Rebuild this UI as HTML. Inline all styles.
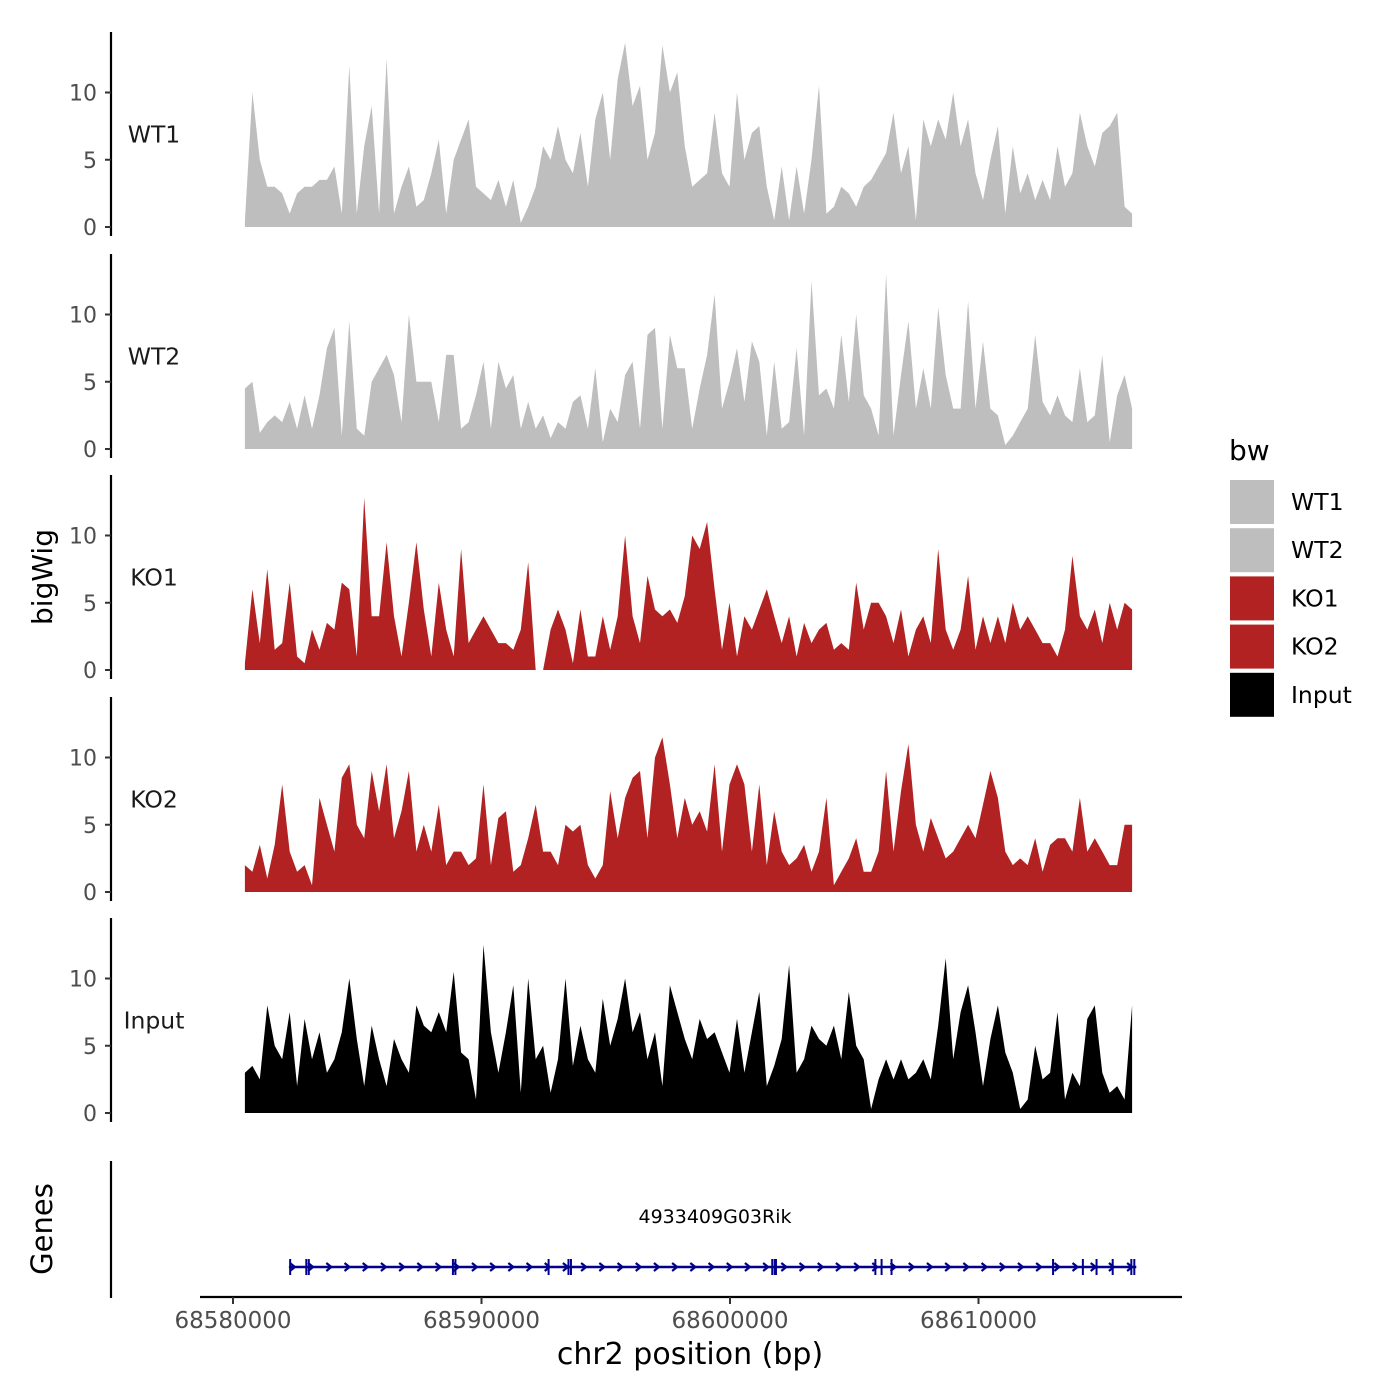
<!DOCTYPE html>
<html><head><meta charset="utf-8"><style>
html,body{margin:0;padding:0;background:#fff;}
svg{display:block;font-family:"DejaVu Sans","Liberation Sans",sans-serif;}
</style></head><body>
<svg id="chart" width="1400" height="1400" viewBox="0 0 1400 1400" xmlns="http://www.w3.org/2000/svg">
<rect width="1400" height="1400" fill="#fff"/>
<g id="panels"></g>
<g id="genes"></g>
<g id="xaxis"></g>
<text transform="translate(52,577) rotate(-90)" text-anchor="middle" font-size="28" fill="#000">bigWig</text>
<text transform="translate(52,1229) rotate(-90)" text-anchor="middle" font-size="29" fill="#000">Genes</text>
<text x="690" y="1364" text-anchor="middle" font-size="30" fill="#000">chr2 position (bp)</text>
<g id="legend"></g>
</svg>
<script>
const tracks = ["WT1","WT2","KO1","KO2","Input"];
const colors = ["#bebebe","#bebebe","#b22222","#b22222","#000000"];
const binStartKb = 0.48;
const binStepKb = 0.3;
const wt1 = [0.5,10,5,3,3,2.5,1,2.5,3,3,3.5,3.5,4.5,1,12,1,6,9,1,12.5,1,3,4.5,1.5,2,4,6.5,1,5,6.5,8,3,2.5,2,3.5,1.5,3.5,0.3,1.5,3,6,5,7.5,5,4,7,3,8,10,5,11,13.7,9,10.5,5,7,13.5,10,11.5,6,3,3.5,4,8.5,4,3,10,5,7,7.5,3,0.5,4.5,0.5,4.5,1,5,10.5,1,1.5,3,2.5,1.5,3,3.5,4.5,5.5,8.5,4,6,0.5,8,6,8,6.5,10,6,8,4,2,5,7.5,1,6,2.5,4,2,3.5,2,6,3,4,8.5,6,4.5,7,7.5,8.5,1.5,1];
const wt2 = [4.5,5,1.2,2,2.5,2,3.5,1.5,4,1.5,4,7.5,9,1,9.5,1.5,1,5,6,7,5.5,2,10,5,5,5,2,7,7,1.5,2,4,6.5,1.5,6.5,4.5,5.5,1.5,3.5,1.5,2.5,0.8,2,1.5,3.5,4,1.5,6,0.5,3,2,5.5,6.5,1.5,8.5,9,1.5,8.5,6,6,1.5,4.5,7,11.5,3,5,7.5,3.5,8,6.5,1,6.5,1.5,2,7.5,1,12.5,4,4.5,3,8.5,3.5,10,4,3,1,13,1,5.5,9.5,3,6,3,10.5,5.5,3,3,11,3,8,3,2.5,0.3,1,2,3,8.5,3.5,2.5,4,2.5,2,6,2,2.5,7,0.5,4,5.5,3];
const ko1 = [0.5,6,2,7.5,1.5,2,6.5,1,0.5,3,1.5,3.5,3,6.5,6,1,12.8,4,4,9.5,4,1,5,9.5,4.5,1,6.5,3,1,9,2,3,4,3,2,2,1.5,3,8,0,0,3,4.5,3,0.5,4.5,1,1,4,1.5,4,10,4,2,7,4.5,4,4.5,3.5,5.5,10,9,11,6,1.5,5,1,4,3,4.5,6,4,2,4,1,3.5,2,3,3.5,1.5,2,1.5,6.5,3,5,5,4,2,4.5,1,3,4,2,9,3,1.5,3,7,1.5,4,2,4,2,5,3,4,3,2,2,1,3,8.5,4,3,4.5,2,5,3,5,4.5];
const ko2 = [2,1.5,3.5,1,3.5,8,3,1.5,2,0.5,7,5,3,8.5,9.5,5,4,9,6,9.5,4,6,9,3,5,3,6.5,2,3,3,2,2.5,8,2,5.5,6,1.5,2,4,6.5,3,3,2,5,4.5,5,2,1,2,7.5,4,7,8.5,9,4,10,11.5,8,4,7,5,6,4.5,9.5,3,8,9.5,8,3,8,2,6,3,2,2.5,3.5,1.5,3,7,0.5,1.5,2.5,4,1.5,1.5,3,9,3,7.5,11,5,3,5.5,4,2.5,3,4,5,4,6.5,9,7,3,2,2.5,2,4,1.5,3.5,4,4,3,7,3,4,3,2,2,5,5];
const input = [3,3.5,2.5,8,5,4,7.5,2,7,4,6,3,4,6,10,5.5,2,6.5,4,2,5.5,4,3,8,6.5,6,7.5,6,10.5,4.5,4,1,12.5,6,3,6,9.5,1.5,10,4,5,1.5,4,10,3.5,6.5,4,3,8.5,5,7,10,6,7.5,4,6,2,9.5,7.5,5.5,4,7,5.5,6,4.5,3,7,3,6,9,2,3.5,5.5,11,3,4,6.5,5.5,5,6.5,4,9,5,4,0.3,2.5,4,2.5,4,2.5,3,4,2.5,6.5,11.5,4,7.5,9.5,6,2,5.5,8,4.5,3,0.3,1,5,2.5,3,7.5,1,3,2,7,8,3,1.5,2,1,8];
const seriesData = [wt1, wt2, ko1, ko2, input];
const yTicks = [0,5,10];
const xTicks = [68580000,68590000,68600000,68610000];
const xTickLabels = ["68580000","68590000","68600000","68610000"];
const geneName = "4933409G03Rik";
const geneStartKb = 2.25;
const geneEndKb = 36.35;
const exonsKb = [2.3,2.95,3.05,8.85,8.95,12.7,13.5,13.6,21.7,21.8,21.85,25.85,26.1,26.5,33.0,34.2,34.75,35.4,36.15,36.27];
const legendLabels = ["WT1","WT2","KO1","KO2","Input"];

const NS = "http://www.w3.org/2000/svg";
function mk(tag, attrs, parent){const e=document.createElementNS(NS,tag);for(const k in attrs)e.setAttribute(k,attrs[k]);parent.appendChild(e);return e;}
function xScale(kb){return 233 + kb*24.85;}
function xScaleBp(bp){return xScale((bp-68580000)/1000);}
const panelZero = [227,449,670,892,1113];
const pxPerUnit = 13.45;
function yScale(p,v){return panelZero[p] - v*pxPerUnit;}

const panels = document.getElementById('panels');
tracks.forEach((name,p)=>{
  const g = mk('g',{},panels);
  
  
  const vals = seriesData[p];
  let d = 'M'+xScale(binStartKb).toFixed(1)+','+panelZero[p];
  vals.forEach((v,i)=>{d+=' L'+xScale(binStartKb+i*binStepKb).toFixed(1)+','+yScale(p,v).toFixed(1);});
  d += ' L'+xScale(binStartKb+(vals.length-1)*binStepKb).toFixed(1)+','+panelZero[p]+' Z';
  const area = mk('path',{d:d,fill:colors[p]},g);
  
  
  const ax = mk('line',{x1:111,x2:111,y1:panelZero[p]-195,y2:panelZero[p]+9,stroke:'#000','stroke-width':2.2},g);
  
  
  yTicks.forEach(t=>{
    const y=yScale(p,t);
    const tk = mk('line',{x1:105,x2:111,y1:y,y2:y,stroke:'#333','stroke-width':2},g);
    
    
    const tl = mk('text',{x:97,y:y+8,'text-anchor':'end','font-size':22,fill:'#4d4d4d'},g);
    tl.textContent=t;
    
    
  });
  const lab = mk('text',{x:154,y:yScale(p,6.3),'text-anchor':'middle','font-size':23.5,fill:'#1a1a1a'},g);
  lab.textContent=name;
  
  
});

const genes = document.getElementById('genes');
const gax = mk('line',{x1:111,x2:111,y1:1161,y2:1298,stroke:'#000','stroke-width':2.2},genes);


const gy = 1267;
const gl = mk('line',{x1:xScale(geneStartKb),x2:xScale(geneEndKb),y1:gy,y2:gy,stroke:'#00008b','stroke-width':2.5},genes);


for(let x=xScale(geneStartKb)+4; x<xScale(geneEndKb)-4; x+=18.2){
  const ch = mk('path',{d:`M${x-3},${gy-4} L${x+2},${gy} L${x-3},${gy+4}`,stroke:'#00008b','stroke-width':2.2,fill:'none'},genes);
  
  
}
exonsKb.forEach(k=>{
  const x=xScale(k);
  const ex = mk('line',{x1:x,x2:x,y1:gy-8,y2:gy+8,stroke:'#00008b','stroke-width':2},genes);
  
  
});
const gn = mk('text',{x:715,y:1223,'text-anchor':'middle','font-size':19,fill:'#000'},genes);
gn.textContent=geneName;



const xaxis = document.getElementById('xaxis');
const xl = mk('line',{x1:200,x2:1182,y1:1297,y2:1297,stroke:'#000','stroke-width':2.2},xaxis);


xTicks.forEach((t,i)=>{
  const x=xScaleBp(t);
  const tk = mk('line',{x1:x,x2:x,y1:1297,y2:1304,stroke:'#333','stroke-width':2},xaxis);
  
  
  const tl = mk('text',{x:x,y:1328,'text-anchor':'middle','font-size':23,fill:'#4d4d4d'},xaxis);
  tl.textContent=xTickLabels[i];
  
  
});

const legend = document.getElementById('legend');
const lt = mk('text',{x:1229,y:460,'font-size':28,fill:'#000'},legend);
lt.textContent='bw';


legendLabels.forEach((name,i)=>{
  const y=480+i*48.2;
  const r = mk('rect',{x:1230,y:y,width:44,height:44,fill:colors[i]},legend);
  
  
  const t = mk('text',{x:1291,y:y+30,'font-size':23.5,fill:'#000'},legend);
  t.textContent=name;
  
  
});
</script>
</body></html>
